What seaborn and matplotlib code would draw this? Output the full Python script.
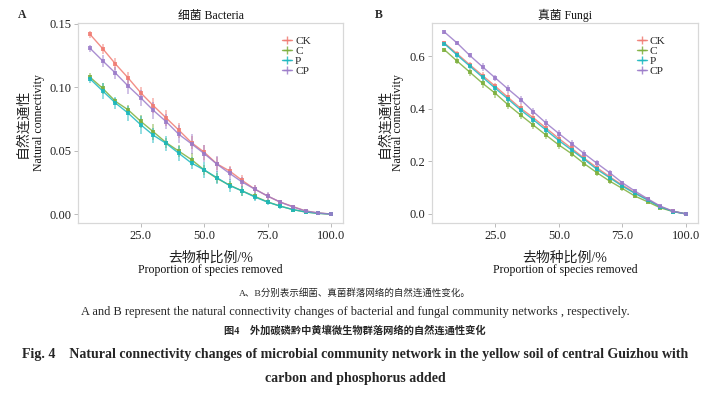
import matplotlib.pyplot as plt
import seaborn as sns
import numpy as np
import pandas as pd
from matplotlib.lines import Line2D

sns.set_theme(style="white")
plt.rcParams['font.family'] = ['Liberation Serif', 'Noto Sans CJK SC']

groups = ['CK', 'C', 'P', 'CP']
colors = ['#F07B72', '#7DAF3C', '#1BB8C0', '#9B7BC9']
removed = [5, 10, 15, 20, 25, 30, 35, 40, 45, 50, 55, 60, 65, 70, 75, 80, 85, 90, 95, 100]

bac_ck = [0.1417, 0.1304, 0.1184, 0.1074, 0.0956, 0.0854, 0.0758, 0.0662, 0.0563, 0.0488,
          0.0396, 0.0340, 0.0265, 0.0196, 0.0142, 0.0094, 0.0059, 0.0024, 0.0008, 0.0]
bac_c = [0.1079, 0.0991, 0.0889, 0.0822, 0.0731, 0.0648, 0.0563, 0.0496, 0.0429, 0.0348,
         0.0281, 0.0228, 0.0182, 0.0139, 0.0096, 0.0062, 0.0035, 0.0016, 0.0005, 0.0]
bac_p = [0.1066, 0.0970, 0.0876, 0.0796, 0.0704, 0.0621, 0.0557, 0.0479, 0.0402, 0.0348,
         0.0287, 0.0225, 0.0182, 0.0134, 0.0094, 0.0062, 0.0035, 0.0016, 0.0005, 0.0]
bac_cp = [0.1307, 0.1208, 0.1112, 0.1010, 0.0916, 0.0817, 0.0729, 0.0629, 0.0554, 0.0477,
          0.0394, 0.0321, 0.0252, 0.0196, 0.0142, 0.0094, 0.0056, 0.0024, 0.0008, 0.0]

bac_ck_sd = [0.003, 0.004, 0.005, 0.005, 0.005, 0.006, 0.006, 0.006, 0.005, 0.006,
             0.005, 0.004, 0.004, 0.003, 0.002, 0.002, 0.001, 0.001, 0.0005, 0.0]
bac_c_sd = [0.003, 0.004, 0.003, 0.004, 0.005, 0.006, 0.004, 0.005, 0.005, 0.004,
            0.004, 0.003, 0.004, 0.003, 0.002, 0.001, 0.001, 0.0005, 0.0003, 0.0]
bac_p_sd = [0.003, 0.006, 0.005, 0.006, 0.007, 0.006, 0.006, 0.006, 0.005, 0.006,
            0.005, 0.005, 0.004, 0.003, 0.002, 0.002, 0.001, 0.0005, 0.0003, 0.0]
bac_cp_sd = [0.003, 0.005, 0.005, 0.006, 0.006, 0.007, 0.006, 0.007, 0.008, 0.007,
             0.006, 0.005, 0.004, 0.003, 0.003, 0.002, 0.001, 0.001, 0.0005, 0.0]

fun_ck = [0.6497, 0.6089, 0.5669, 0.5261, 0.4854, 0.4433, 0.4013, 0.3656, 0.3261, 0.2866,
          0.2497, 0.2115, 0.1758, 0.1414, 0.1096, 0.0803, 0.0548, 0.0268, 0.0102, 0.0]
fun_c = [0.6242, 0.5809, 0.5389, 0.4968, 0.4586, 0.4153, 0.3758, 0.3376, 0.2994, 0.2624,
         0.2293, 0.1911, 0.1567, 0.1248, 0.0968, 0.0675, 0.0459, 0.0229, 0.0089, 0.0]
fun_p = [0.6471, 0.6038, 0.5618, 0.5197, 0.4777, 0.4369, 0.3949, 0.3580, 0.3185, 0.2790,
         0.2433, 0.2076, 0.1694, 0.1376, 0.1057, 0.0777, 0.0522, 0.0268, 0.0089, 0.0]
fun_cp = [0.6917, 0.6497, 0.6025, 0.5592, 0.5172, 0.4752, 0.4344, 0.3885, 0.3452, 0.3057,
          0.2675, 0.2293, 0.1924, 0.1567, 0.1185, 0.0866, 0.0573, 0.0293, 0.0102, 0.0]

fun_ck_sd = [0.008, 0.010, 0.012, 0.014, 0.014, 0.015, 0.015, 0.014, 0.014, 0.013,
             0.012, 0.011, 0.010, 0.009, 0.008, 0.007, 0.005, 0.003, 0.002, 0.0]
fun_c_sd = [0.008, 0.012, 0.014, 0.018, 0.016, 0.016, 0.016, 0.015, 0.015, 0.014,
            0.012, 0.012, 0.011, 0.010, 0.009, 0.007, 0.005, 0.003, 0.002, 0.0]
fun_p_sd = [0.007, 0.010, 0.012, 0.013, 0.013, 0.014, 0.014, 0.013, 0.013, 0.012,
            0.011, 0.010, 0.010, 0.009, 0.008, 0.006, 0.005, 0.003, 0.002, 0.0]
fun_cp_sd = [0.006, 0.008, 0.010, 0.014, 0.012, 0.014, 0.015, 0.014, 0.014, 0.013,
             0.012, 0.012, 0.011, 0.010, 0.008, 0.007, 0.005, 0.003, 0.002, 0.0]


def to_long(vals, sds):
    rows = []
    for g, v, s in zip(groups, vals, sds):
        for x, y, e in zip(removed, v, s):
            rows.append({'removed': x, 'nc': y, 'sd': e, 'group': g})
    return pd.DataFrame(rows)


bac = to_long([bac_ck, bac_c, bac_p, bac_cp], [bac_ck_sd, bac_c_sd, bac_p_sd, bac_cp_sd])
fun = to_long([fun_ck, fun_c, fun_p, fun_cp], [fun_ck_sd, fun_c_sd, fun_p_sd, fun_cp_sd])

fig = plt.figure(figsize=(7.1, 3.93), dpi=100)
ax_a = fig.add_axes([0.110, 0.4326, 0.373, 0.509])
ax_b = fig.add_axes([0.609, 0.4326, 0.374, 0.509])

panels = [
    (ax_a, bac, 'A', -0.21, '细菌 Bacteria', [0, 0.05, 0.10, 0.15], '{:.2f}', (-0.208, -0.148)),
    (ax_b, fun, 'B', -0.20, '真菌 Fungi', [0, 0.2, 0.4, 0.6], '{:.1f}', (-0.18, -0.128)),
]

for ax, df, letter, letter_x, title, yticks, fmt, ylab_x in panels:
    for g, c in zip(groups, colors):
        sub = df[df['group'] == g]
        ax.errorbar(sub['removed'], sub['nc'], yerr=sub['sd'], fmt='none',
                    ecolor=c, elinewidth=1.2, alpha=0.55, capsize=0, zorder=2)
    sns.lineplot(data=df, x='removed', y='nc', hue='group', palette=colors,
                 hue_order=groups, marker='s', markersize=2.8, markeredgewidth=0,
                 linewidth=1.0, alpha=0.85, errorbar=None, legend=False, ax=ax, zorder=3)

    ymax = df['nc'].max()
    ax.set_xlim(5 - 95 * 0.05, 100 + 95 * 0.05)
    ax.set_ylim(-ymax * 0.05, ymax * 1.05 + 0.002 * (ymax < 0.2))
    ax.set_xticks([25, 50, 75, 100])
    ax.set_xticklabels(['25.0', '50.0', '75.0', '100.0'], fontsize=9)
    ax.set_yticks(yticks)
    ax.set_yticklabels([fmt.format(t) for t in yticks], fontsize=9)
    ax.tick_params(axis='both', length=3, width=0.6, color='#b0b0b0',
                   labelcolor='#222222', pad=2, bottom=True, left=True)
    ax.set_xlabel('')
    ax.set_ylabel('')
    for s in ax.spines.values():
        s.set_color('#d8d8d8')
        s.set_linewidth(0.9)

    ax.set_title(title, fontsize=8.5, pad=3, color='#111111')
    ax.text(letter_x, 1.04, letter, transform=ax.transAxes,
            fontsize=8.5, fontweight='bold', va='center', ha='center')

    ax.text(0.5, -0.175, '去物种比例/%', transform=ax.transAxes, ha='center',
            va='center', fontsize=10, color='#222222')
    ax.text(0.5, -0.235, 'Proportion of species removed', transform=ax.transAxes,
            ha='center', va='center', fontsize=8.5, color='#111111')
    ax.text(ylab_x[0], 0.5, '自然连通性', transform=ax.transAxes, rotation=90,
            ha='center', va='center', fontsize=10, color='#222222')
    ax.text(ylab_x[1], 0.5, 'Natural connectivity', transform=ax.transAxes,
            rotation=90, ha='center', va='center', fontsize=8.5, color='#111111')

    handles = [Line2D([0], [0], color=c, marker='+', markersize=6, linewidth=1,
                      alpha=0.85) for c in colors]
    ax.legend(handles, groups, loc='upper right', bbox_to_anchor=(0.9, 0.965),
              frameon=False, fontsize=8.2, handlelength=0.8, handletextpad=0.3,
              labelspacing=0.0, borderpad=0)

fig.text(0.5, 0.255, 'A、B分别表示细菌、真菌群落网络的自然连通性变化。', ha='center',
         va='center', fontsize=6.8)
fig.text(0.5, 0.206, 'A and B represent the natural connectivity changes of bacterial '
         'and fungal community networks , respectively.', ha='center', va='center',
         fontsize=8.9)
fig.text(0.5, 0.158, '图4    外加碳磷黔中黄壤微生物群落网络的自然连通性变化', ha='center',
         va='center', fontsize=7.4, fontweight='bold')
fig.text(0.5, 0.097, 'Fig. 4    Natural connectivity changes of microbial community network '
         'in the yellow soil of central Guizhou with', ha='center', va='center',
         fontsize=10, fontweight='bold')
fig.text(0.5, 0.036, 'carbon and phosphorus added', ha='center', va='center',
         fontsize=10, fontweight='bold')

fig.savefig('out.png', dpi=100, facecolor='white')
